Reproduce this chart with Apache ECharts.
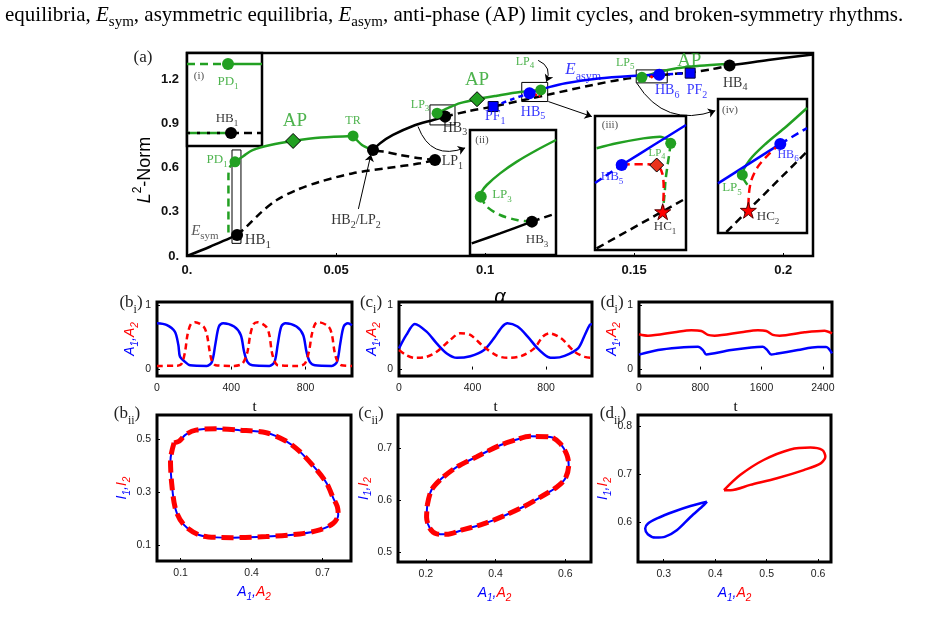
<!DOCTYPE html>
<html>
<head>
<meta charset="utf-8">
<title>bifurcation figure</title>
<script src="https://cdn.jsdelivr.net/npm/echarts@6.0.0/dist/echarts.min.js"></script>
<style>
  html, body { margin: 0; padding: 0; background: #fff; }
  #fig { width: 946px; height: 626px; }
</style>
</head>
<body>
<div id="fig"></div>
<script>
// colours and fonts
var BLUE = '#0000ff'
var RED = '#ff0000'
var GREEN = '#22a022'
var BLACK = '#000000'
var SERIF = 'Liberation Serif'
var SANS = 'Liberation Sans'

// ---- (a) alpha vs L2-norm ----
var symStable1 = [[0, 0], [0.0077, 0.063], [0.0144, 0.122], [0.0168, 0.143]]
var symUnstable1 = [[0.0168, 0.143], [0.02, 0.2], [0.0245, 0.29], [0.0301, 0.381], [0.0368, 0.449], [0.0446, 0.505], [0.0557, 0.563], [0.067, 0.597], [0.0782, 0.63], [0.0832, 0.653]]
var symUnstable2 = [[0.0832, 0.653], [0.0782, 0.664], [0.0715, 0.687], [0.0658, 0.71], [0.0624, 0.72]]
var symStable2 = [[0.0624, 0.72], [0.0648, 0.767], [0.0691, 0.823], [0.0758, 0.884], [0.0826, 0.925], [0.0866, 0.948]]
var symUnstable3 = [[0.0866, 0.948], [0.0945, 0.985], [0.1027, 1.016], [0.114, 1.065], [0.1218, 1.1], [0.1362, 1.163], [0.1463, 1.202], [0.158, 1.228], [0.1688, 1.248], [0.176, 1.27], [0.182, 1.295]]
var symStable3 = [[0.182, 1.295], [0.195, 1.333], [0.21, 1.37]]
var apLow = [[0.0161, 0.64], [0.019, 0.68], [0.022, 0.72], [0.028, 0.755], [0.0356, 0.782], [0.045, 0.805], [0.0557, 0.816]]
var apLowTail = [[0.0557, 0.816], [0.0587, 0.755], [0.0612, 0.73]]
var pdBranch = [[0.0161, 0.64], [0.0145, 0.61], [0.0139, 0.55], [0.0139, 0.15]]
var apHigh = [[0.0839, 0.971], [0.0875, 1.005], [0.0916, 1.039], [0.0973, 1.066], [0.104, 1.09], [0.1117, 1.115], [0.1187, 1.129]]
var apRight = [[0.1526, 1.215], [0.158, 1.25], [0.1643, 1.277], [0.172, 1.294], [0.181, 1.306]]
var asymUnstable1 = [[0.1027, 1.016], [0.109, 1.065], [0.1149, 1.107]]
var asymStable = [[0.1149, 1.107], [0.1218, 1.15], [0.127, 1.175], [0.138, 1.207], [0.149, 1.224], [0.1584, 1.232]]
var asymUnstable2 = [[0.1584, 1.232], [0.1688, 1.243]]
var brokenHB5 = [[0.1165, 1.1], [0.1185, 1.085]]
var brokenHB6 = [[0.1555, 1.225], [0.1565, 1.205]]
var hbBlack = [[0.0168, 0.143], [0.0624, 0.72], [0.0832, 0.653], [0.0866, 0.948], [0.182, 1.295]]
var lpGreen = [[0.0161, 0.64], [0.0557, 0.816], [0.0839, 0.971], [0.1187, 1.129], [0.1526, 1.215]]
var apDiamonds = [[0.0356, 0.782], [0.0973, 1.066]]
var hbBlue = [[0.1149, 1.107], [0.1584, 1.232]]
var pfSquares = [[0.1027, 1.016], [0.1688, 1.243]]

// ---- insets, unit coordinates inside each frame ----
var in1Green = [[0, 0.882], [0.547, 0.882]]
var in1GreenOn = [[0.547, 0.882], [1, 0.882]]
var in1Sym = [[0, 0.14], [0.587, 0.14]]
var in1SymOff = [[0.587, 0.14], [1, 0.14]]
var in2GreenOn = [[1, 0.92], [0.778, 0.84], [0.545, 0.747], [0.35, 0.653], [0.195, 0.56], [0.136, 0.507], [0.125, 0.467]]
var in2GreenOff = [[0.125, 0.467], [0.195, 0.387], [0.35, 0.32], [0.545, 0.28], [0.72, 0.267]]
var in2SymOn = [[0.02, 0.093], [0.35, 0.173], [0.72, 0.267]]
var in2SymOff = [[0.72, 0.267], [1, 0.333]]
var in3GreenOn = [[0.018, 0.759], [0.238, 0.796], [0.531, 0.833], [0.714, 0.846], [0.806, 0.821], [0.832, 0.796]]
var in3GreenOff = [[0.832, 0.796], [0.817, 0.721], [0.795, 0.622], [0.775, 0.52], [0.765, 0.42], [0.744, 0.286]]
var in3BlueOn = [[0.293, 0.634], [0.65, 0.785], [1, 0.933]]
var in3BlueOff = [[0, 0.5], [0.293, 0.634]]
var in3Red = [[0.293, 0.634], [0.4, 0.64], [0.55, 0.64], [0.678, 0.634], [0.74, 0.57], [0.755, 0.45], [0.75, 0.35], [0.744, 0.286]]
var in3Sym = [[0.018, 0.012], [1, 0.386]]
var in4GreenOn = [[1, 0.933], [0.768, 0.795], [0.543, 0.67], [0.356, 0.545], [0.273, 0.433], [0.33, 0.36]]
var in4BlueOn = [[0, 0.37], [0.7, 0.665]]
var in4BlueOff = [[0.7, 0.665], [1, 0.783]]
var in4Red = [[0.7, 0.665], [0.58, 0.595], [0.449, 0.495], [0.375, 0.395], [0.348, 0.295], [0.341, 0.17]]
var in4Sym = [[0.094, 0.0075], [1, 0.6075]]

// ---- (b,c,d)_i time series [t, A] ----
var biBlue = [[0, 0.721], [51, 0.695], [96, 0.59], [115, 0.381], [124, 0.198], [151, 0.12], [178, 0.067], [269, 0.057], [296, 0.12], [315, 0.407], [333, 0.668], [356, 0.721], [415, 0.668], [451, 0.538], [469, 0.276], [487, 0.12], [514, 0.067], [605, 0.057], [633, 0.12], [651, 0.407], [669, 0.668], [692, 0.721], [751, 0.668], [787, 0.538], [805, 0.276], [823, 0.12], [850, 0.067], [941, 0.057], [969, 0.12], [987, 0.407], [1005, 0.668], [1028, 0.721], [1050, 0.69]]
var biRed = [[0, 0.057], [110, 0.06], [133, 0.093], [151, 0.276], [164, 0.538], [182, 0.705], [205, 0.736], [251, 0.668], [269, 0.538], [284, 0.276], [296, 0.13], [315, 0.067], [415, 0.057], [460, 0.093], [487, 0.276], [502, 0.538], [520, 0.705], [542, 0.736], [587, 0.668], [605, 0.538], [618, 0.276], [633, 0.13], [651, 0.067], [760, 0.057], [796, 0.093], [818, 0.276], [833, 0.538], [851, 0.705], [869, 0.736], [924, 0.668], [942, 0.538], [956, 0.276], [971, 0.13], [993, 0.067], [1050, 0.057]]
var ciBlue = [[0, 0.329], [40, 0.538], [86, 0.71], [150, 0.59], [205, 0.407], [260, 0.25], [315, 0.182], [388, 0.208], [461, 0.3], [516, 0.485], [562, 0.668], [590, 0.72], [645, 0.668], [700, 0.512], [754, 0.329], [809, 0.198], [846, 0.182], [901, 0.214], [974, 0.329], [1011, 0.538], [1038, 0.695], [1050, 0.705]]
var ciRed = [[0, 0.303], [40, 0.224], [86, 0.182], [150, 0.198], [205, 0.276], [278, 0.459], [333, 0.564], [388, 0.538], [461, 0.355], [535, 0.214], [590, 0.182], [663, 0.208], [736, 0.329], [782, 0.512], [818, 0.564], [882, 0.485], [956, 0.276], [1011, 0.198], [1050, 0.182]]
var diBlue = [[0, 0.232], [248, 0.303], [509, 0.339], [770, 0.355], [835, 0.303], [878, 0.235], [943, 0.245], [1204, 0.303], [1465, 0.344], [1617, 0.355], [1674, 0.303], [1726, 0.235], [1791, 0.245], [2074, 0.303], [2335, 0.35], [2443, 0.35], [2520, 0.25]]
var diRed = [[0, 0.55], [117, 0.527], [465, 0.58], [683, 0.61], [813, 0.6], [900, 0.538], [987, 0.527], [1335, 0.58], [1552, 0.61], [1661, 0.6], [1748, 0.538], [1835, 0.527], [2161, 0.58], [2422, 0.605], [2520, 0.564]]

// ---- (b,c,d)_ii phase loops [A, I] ----
var biiLoop = [[0.072, 0.485], [0.057, 0.42], [0.062, 0.333], [0.079, 0.233], [0.114, 0.176], [0.178, 0.138], [0.249, 0.129], [0.32, 0.128], [0.462, 0.132], [0.603, 0.142], [0.688, 0.157], [0.745, 0.182], [0.766, 0.214], [0.762, 0.245], [0.745, 0.277], [0.717, 0.333], [0.674, 0.384], [0.603, 0.453], [0.547, 0.491], [0.462, 0.523], [0.348, 0.533], [0.249, 0.538], [0.164, 0.533], [0.121, 0.516], [0.093, 0.491], [0.072, 0.485]]
var ciiLoop = [[0.204, 0.59], [0.216, 0.619], [0.245, 0.641], [0.288, 0.663], [0.346, 0.683], [0.413, 0.705], [0.461, 0.716], [0.499, 0.722], [0.557, 0.721], [0.586, 0.708], [0.605, 0.686], [0.61, 0.667], [0.6, 0.641], [0.576, 0.625], [0.538, 0.609], [0.48, 0.587], [0.422, 0.569], [0.365, 0.554], [0.307, 0.543], [0.259, 0.534], [0.231, 0.535], [0.212, 0.545], [0.202, 0.567], [0.204, 0.59]]
var diiBlue = [[0.384, 0.642], [0.352, 0.633], [0.319, 0.621], [0.287, 0.607], [0.269, 0.596], [0.264, 0.586], [0.269, 0.574], [0.284, 0.567], [0.303, 0.569], [0.326, 0.583], [0.352, 0.61], [0.378, 0.635], [0.384, 0.642]]
var diiRed = [[0.417, 0.666], [0.449, 0.698], [0.494, 0.729], [0.546, 0.751], [0.585, 0.755], [0.608, 0.75], [0.614, 0.736], [0.605, 0.722], [0.572, 0.708], [0.52, 0.691], [0.468, 0.677], [0.43, 0.666], [0.417, 0.666]]

// tick labels of the small panels
var biiTicksX = [0.1, 0.4, 0.7]
var biiTicksY = [0.1, 0.3, 0.5]
var ciiTicksX = [0.2, 0.4, 0.6]
var ciiTicksY = [0.5, 0.6, 0.7]
var diiTicksX = [0.3, 0.4, 0.5, 0.6]
var diiTicksY = [0.6, 0.7, 0.8]
var timeTicksY = [0, 1]

var STAR = 'path://M50,0 L61,35 L98,35 L68,57 L79,91 L50,70 L21,91 L32,57 L2,35 L39,35 Z'

// rich text styles for labels with sub/superscripts
function richFor (size, fam) {
  fam = fam || SERIF
  var lh = Math.round(size * 1.45)
  return {
    n: { fontFamily: fam, fontSize: size, lineHeight: lh },
    i: { fontFamily: fam, fontSize: size, lineHeight: lh, fontStyle: 'italic' },
    s: { fontFamily: fam, fontSize: Math.round(size * 0.72), lineHeight: Math.round(size * 0.8), verticalAlign: 'bottom' },
    p: { fontFamily: fam, fontSize: Math.round(size * 0.65), lineHeight: Math.round(size * 0.8), verticalAlign: 'top' }
  }
}
function sub (a, b) { return '{n|' + a + '}{s|' + b + '}' }

function curve (grid, data, color, width, dash, z, smooth) {
  return {
    type: 'line', xAxisIndex: grid, yAxisIndex: grid, data: data, symbol: 'none', silent: true,
    z: z || 3, smooth: smooth === undefined ? 0.3 : smooth,
    lineStyle: { color: color, width: width, type: dash || 'solid', cap: 'butt' }
  }
}
function marks (grid, data, symbol, size, color, border, z) {
  return {
    type: 'scatter', xAxisIndex: grid, yAxisIndex: grid, data: data, symbol: symbol, symbolSize: size,
    silent: true, z: z || 8,
    itemStyle: { color: color, borderColor: border || color, borderWidth: border ? 1 : 0, opacity: 1 }
  }
}
function notes (grid, items) {
  return {
    type: 'scatter', xAxisIndex: grid, yAxisIndex: grid, symbolSize: 1, silent: true, z: 10,
    itemStyle: { color: 'rgba(0,0,0,0)' },
    data: items.map(function (d) {
      return {
        value: [d[0], d[1]],
        label: { show: true, position: 'inside', color: d[3], formatter: function () { return d[2] }, rich: richFor(d[4], d[5]) }
      }
    })
  }
}
function unitAxis (i) { return { gridIndex: i, type: 'value', min: 0, max: 1, show: false } }

var D = [8, 5]
var DS = [6, 4]

// axis name with blue first letter and red second one
function pairName (letter) { return '{b|' + letter + '}{bs|1}{b|,}{r|' + letter + '}{rs|2}' }
var pairRich = {
  b: { color: BLUE, fontFamily: SANS, fontStyle: 'italic', fontSize: 14, lineHeight: 19 },
  bs: { color: BLUE, fontFamily: SANS, fontStyle: 'italic', fontSize: 10, lineHeight: 12, verticalAlign: 'bottom' },
  r: { color: RED, fontFamily: SANS, fontStyle: 'italic', fontSize: 14, lineHeight: 19 },
  rs: { color: RED, fontFamily: SANS, fontStyle: 'italic', fontSize: 10, lineHeight: 12, verticalAlign: 'bottom' }
}

function plain (v) { return String(+v.toFixed(2)) }

function smallX (i, min, max, interval, custom, name, gap) {
  var ax = {
    gridIndex: i, type: 'value', min: min, max: max,
    axisLine: { show: false }, splitLine: { show: false },
    axisTick: { show: true, inside: true, length: 3, lineStyle: { color: '#000' } },
    axisLabel: { fontFamily: SANS, fontSize: 10.5, color: '#222', margin: 7, formatter: plain },
    name: name, nameLocation: 'middle', nameGap: gap
  }
  if (interval) {
    ax.interval = interval
    ax.axisLabel.showMaxLabel = false
  }
  if (custom) { ax.axisLabel.customValues = custom; ax.axisTick.customValues = custom }
  if (name === 't') ax.nameTextStyle = { fontFamily: SERIF, fontSize: 15, color: '#000' }
  else ax.nameTextStyle = { rich: pairRich }
  return ax
}
function smallY (i, min, max, custom, name, gap) {
  return {
    gridIndex: i, type: 'value', min: min, max: max,
    axisLine: { show: false }, splitLine: { show: false },
    axisTick: { show: true, inside: true, length: 3, customValues: custom, lineStyle: { color: '#000' } },
    axisLabel: { fontFamily: SANS, fontSize: 10.5, color: '#222', margin: 6, customValues: custom, formatter: plain },
    name: name, nameLocation: 'middle', nameGap: gap, nameTextStyle: { rich: pairRich }
  }
}

var frame = function (l, t, w, h, bw, bg) {
  return { left: l, top: t, width: w, height: h, show: true, borderColor: '#000', borderWidth: bw, backgroundColor: bg || 'transparent' }
}

var chartEl = document.getElementById('fig')
var chart = echarts.init(chartEl)

var option = {
  animation: false,
  backgroundColor: '#fff',
  grid: [
    frame(187, 53, 626, 203, 2.5),
    frame(187, 53, 75, 93, 2.5, '#fff'),
    frame(470, 130, 86, 125, 2.5, '#fff'),
    frame(595, 116, 91, 134, 2.5, '#fff'),
    frame(718, 99, 89, 134, 2.5, '#fff'),
    frame(157, 302, 195, 74, 3),
    frame(399, 302, 193, 74, 3),
    frame(639, 302, 193, 74, 3),
    frame(157, 415, 194, 146, 3),
    frame(398, 415, 193, 147, 3),
    frame(638, 415, 193, 147, 3)
  ],
  xAxis: [
    {
      gridIndex: 0, type: 'value', min: 0, max: 0.21, interval: 0.05,
      axisLine: { show: false }, splitLine: { show: false },
      axisTick: { show: true, inside: true, length: 3, lineStyle: { color: '#000' } },
      axisLabel: {
        showMaxLabel: false, margin: 8, fontFamily: SANS, fontSize: 13, fontWeight: 'bold', color: '#111',
        formatter: function (v) { return v === 0 ? '0.' : String(+v.toFixed(2)) }
      },
      name: 'α', nameLocation: 'middle', nameGap: 31,
      nameTextStyle: { fontFamily: SANS, fontStyle: 'italic', fontSize: 20, color: '#000' }
    },
    unitAxis(1), unitAxis(2), unitAxis(3), unitAxis(4),
    smallX(5, 0, 1050, 400, null, 't', 24),
    smallX(6, 0, 1050, 400, null, 't', 24),
    smallX(7, 0, 2520, 800, null, 't', 24),
    smallX(8, 0, 0.82, null, biiTicksX, pairName('A'), 22),
    smallX(9, 0.12, 0.674, null, ciiTicksX, pairName('A'), 22),
    smallX(10, 0.25, 0.625, null, diiTicksX, pairName('A'), 22)
  ],
  yAxis: [
    {
      gridIndex: 0, type: 'value', min: 0, max: 1.38, interval: 0.3,
      axisLine: { show: false }, splitLine: { show: false }, axisTick: { show: false },
      axisLabel: {
        showMaxLabel: false, margin: 8, fontFamily: SANS, fontSize: 13, fontWeight: 'bold', color: '#111',
        formatter: function (v) { return v === 0 ? '0.' : v.toFixed(1) }
      }
    },
    unitAxis(1), unitAxis(2), unitAxis(3), unitAxis(4),
    smallY(5, -0.1, 1.05, timeTicksY, pairName('A'), 17),
    smallY(6, -0.1, 1.05, timeTicksY, pairName('A'), 17),
    smallY(7, -0.1, 1.05, timeTicksY, pairName('A'), 17),
    smallY(8, 0.04, 0.59, biiTicksY, pairName('I'), 25),
    smallY(9, 0.481, 0.763, ciiTicksY, pairName('I'), 22),
    smallY(10, 0.516, 0.823, diiTicksY, pairName('I'), 25)
  ],
  graphic: [
    {
      type: 'text', x: 5, y: 15,
      style: {
        text: '{n|equilibria, }{i|E}{s|sym}{n|, asymmetric equilibria, }{i|E}{s|asym}{n|, anti-phase (AP) limit cycles, and broken-symmetry rhythms.}',
        align: 'left', verticalAlign: 'middle', fill: '#000', rich: richFor(21)
      }
    },
    { type: 'text', x: 145, y: 170, rotation: Math.PI / 2, style: { text: '{i|L}{p|2}{n|-Norm}', align: 'center', verticalAlign: 'middle', fill: '#000', rich: richFor(18, SANS) } },
    { type: 'text', x: 143, y: 58, style: { text: '{n|(a)}', align: 'center', verticalAlign: 'middle', fill: '#222', rich: richFor(17) } },
    { type: 'text', x: 131, y: 303, style: { text: '{n|(b}{s|i}{n|)}', align: 'center', verticalAlign: 'middle', fill: '#222', rich: richFor(17) } },
    { type: 'text', x: 371, y: 303, style: { text: '{n|(c}{s|i}{n|)}', align: 'center', verticalAlign: 'middle', fill: '#222', rich: richFor(17) } },
    { type: 'text', x: 612, y: 303, style: { text: '{n|(d}{s|i}{n|)}', align: 'center', verticalAlign: 'middle', fill: '#222', rich: richFor(17) } },
    { type: 'text', x: 127, y: 414, style: { text: '{n|(b}{s|ii}{n|)}', align: 'center', verticalAlign: 'middle', fill: '#222', rich: richFor(17) } },
    { type: 'text', x: 371, y: 414, style: { text: '{n|(c}{s|ii}{n|)}', align: 'center', verticalAlign: 'middle', fill: '#222', rich: richFor(17) } },
    { type: 'text', x: 613, y: 414, style: { text: '{n|(d}{s|ii}{n|)}', align: 'center', verticalAlign: 'middle', fill: '#222', rich: richFor(17) } }
  ],
  series: [
    // (a) branches
    Object.assign(curve(0, symStable1, BLACK, 2.5, null, 2), {
      markArea: {
        silent: true,
        itemStyle: { color: 'rgba(0,0,0,0)', borderColor: '#000', borderWidth: 1 },
        data: [
          [{ coord: [0.0151, 0.086] }, { coord: [0.0181, 0.721] }],
          [{ coord: [0.0815, 0.891] }, { coord: [0.0899, 1.027] }],
          [{ coord: [0.1123, 1.05] }, { coord: [0.121, 1.18] }],
          [{ coord: [0.1507, 1.177] }, { coord: [0.1611, 1.265] }]
        ]
      }
    }),
    curve(0, symUnstable1, BLACK, 2.5, D, 2),
    curve(0, symUnstable2, BLACK, 2.5, D, 2),
    curve(0, symStable2, BLACK, 2.5, null, 2),
    curve(0, symUnstable3, BLACK, 2.5, D, 2),
    curve(0, symStable3, BLACK, 2.5, null, 2),
    curve(0, apLow, GREEN, 2.5, null, 3),
    curve(0, apLowTail, GREEN, 2.5, null, 3),
    curve(0, pdBranch, GREEN, 2.5, D, 3),
    curve(0, apHigh, GREEN, 2.5, null, 3),
    curve(0, apRight, GREEN, 2.5, null, 3),
    curve(0, asymUnstable1, BLUE, 2.5, [5, 4], 4),
    curve(0, asymStable, BLUE, 2.5, null, 4),
    curve(0, asymUnstable2, BLUE, 2.5, [5, 4], 4),
    curve(0, brokenHB5, RED, 2.5, [3, 2], 5, 0),
    curve(0, brokenHB6, RED, 2.5, [3, 2], 5, 0),
    {
      type: 'lines', coordinateSystem: 'cartesian2d', xAxisIndex: 0, yAxisIndex: 0, silent: true, z: 6,
      symbol: ['none', 'arrow'], symbolSize: 7,
      lineStyle: { color: '#000', width: 1, opacity: 1 },
      data: [
        { coords: [[0.0775, 0.88], [0.0933, 0.735]], lineStyle: { curveness: -0.5 } },
        { coords: [[0.1212, 1.05], [0.1358, 0.948]], lineStyle: { curveness: 0 } },
        { coords: [[0.1509, 1.175], [0.1772, 0.988]], lineStyle: { curveness: -0.4 } },
        { coords: [[0.0575, 0.32], [0.0617, 0.69]], lineStyle: { curveness: 0 } },
        { coords: [[0.1178, 1.33], [0.1205, 1.185]], lineStyle: { curveness: 0.5 } }
      ]
    },
    marks(0, hbBlack, 'circle', 12, BLACK),
    marks(0, lpGreen, 'circle', 11, GREEN),
    marks(0, apDiamonds, 'diamond', 15, GREEN, BLACK),
    marks(0, hbBlue, 'circle', 12, BLUE, null, 9),
    marks(0, pfSquares, 'rect', 10, BLUE, '#000033'),
    notes(0, [
      [0.006, 0.17, '{i|E}{s|sym}', '#333', 15],
      [0.0238, 0.109, sub('HB', '1'), BLACK, 15],
      [0.0101, 0.653, sub('PD', '1'), GREEN, 13],
      [0.0362, 0.918, '{n|AP}', GREEN, 19],
      [0.0557, 0.918, '{n|TR}', GREEN, 12],
      [0.0567, 0.245, '{n|HB}{s|2}{n|/LP}{s|2}', BLACK, 14],
      [0.089, 0.646, sub('LP', '1'), BLACK, 14],
      [0.0782, 1.027, sub('LP', '3'), GREEN, 12],
      [0.0899, 0.871, sub('HB', '3'), BLACK, 14],
      [0.0973, 1.197, '{n|AP}', GREEN, 19],
      [0.1034, 0.952, sub('PF', '1'), BLUE, 14],
      [0.1134, 1.32, sub('LP', '4'), GREEN, 12],
      [0.1329, 1.265, '{i|E}{s|asym}', BLUE, 17],
      [0.1161, 0.98, sub('HB', '5'), BLUE, 14],
      [0.147, 1.313, sub('LP', '5'), GREEN, 12],
      [0.1611, 1.129, sub('HB', '6'), BLUE, 14],
      [0.1711, 1.129, sub('PF', '2'), BLUE, 14],
      [0.1685, 1.327, '{n|AP}', GREEN, 19],
      [0.1839, 1.177, sub('HB', '4'), BLACK, 14]
    ]),

    // inset (i)
    curve(1, in1Green, GREEN, 2.5, D, 3, 0),
    curve(1, in1GreenOn, GREEN, 2.5, null, 3, 0),
    curve(1, in1Sym, GREEN, 2.5, null, 3, 0),
    curve(1, in1Sym, BLACK, 2.5, [3, 7], 4, 0),
    curve(1, in1SymOff, BLACK, 2.5, D, 3, 0),
    marks(1, [[0.547, 0.882]], 'circle', 12, GREEN),
    marks(1, [[0.587, 0.14]], 'circle', 12, BLACK),
    notes(1, [
      [0.16, 0.753, '{n|(i)}', '#222', 11],
      [0.547, 0.688, sub('PD', '1'), GREEN, 13],
      [0.533, 0.29, sub('HB', '1'), BLACK, 13]
    ]),

    // inset (ii)
    curve(2, in2GreenOn, GREEN, 2.5, null, 3),
    curve(2, in2GreenOff, GREEN, 2.5, D, 3),
    curve(2, in2SymOn, BLACK, 2.5, null, 2),
    curve(2, in2SymOff, BLACK, 2.5, D, 2, 0),
    marks(2, [[0.125, 0.467]], 'circle', 12, GREEN),
    marks(2, [[0.72, 0.267]], 'circle', 12, BLACK),
    notes(2, [
      [0.14, 0.92, '{n|(ii)}', '#222', 11],
      [0.372, 0.48, sub('LP', '3'), GREEN, 13],
      [0.78, 0.12, sub('HB', '3'), BLACK, 13]
    ]),

    // inset (iii)
    curve(3, in3GreenOn, GREEN, 2.5, null, 3),
    curve(3, in3GreenOff, GREEN, 2.5, D, 3),
    curve(3, in3BlueOn, BLUE, 2.5, null, 4),
    curve(3, in3BlueOff, BLUE, 2.5, D, 4, 0),
    curve(3, in3Red, RED, 2.5, D, 5),
    curve(3, in3Sym, BLACK, 2.5, D, 2, 0),
    marks(3, [[0.293, 0.634]], 'circle', 12, BLUE),
    marks(3, [[0.832, 0.796]], 'circle', 11, GREEN),
    marks(3, [[0.678, 0.634]], 'diamond', 14, '#e8331c', '#000'),
    marks(3, [[0.744, 0.286]], STAR, 16, RED, '#550000'),
    notes(3, [
      [0.165, 0.933, '{n|(iii)}', '#222', 11],
      [0.187, 0.545, sub('HB', '5'), BLUE, 13],
      [0.68, 0.724, sub('LP', '4'), GREEN, 11],
      [0.77, 0.172, sub('HC', '1'), BLACK, 13]
    ]),

    // inset (iv)
    curve(4, in4GreenOn, GREEN, 2.5, null, 3),
    curve(4, in4BlueOn, BLUE, 2.5, null, 4, 0),
    curve(4, in4BlueOff, BLUE, 2.5, D, 4, 0),
    curve(4, in4Red, RED, 2.5, D, 5),
    curve(4, in4Sym, BLACK, 2.5, D, 2, 0),
    marks(4, [[0.7, 0.665]], 'circle', 12, BLUE),
    marks(4, [[0.273, 0.433]], 'circle', 11, GREEN),
    marks(4, [[0.341, 0.17]], STAR, 16, RED, '#550000'),
    notes(4, [
      [0.135, 0.918, '{n|(iv)}', '#222', 11],
      [0.787, 0.582, sub('HB', '6'), BLUE, 12],
      [0.157, 0.336, sub('LP', '5'), GREEN, 13],
      [0.562, 0.119, sub('HC', '2'), BLACK, 13]
    ]),

    // time series
    curve(5, biBlue, BLUE, 2.5, null, 3),
    curve(5, biRed, RED, 2.5, DS, 4),
    curve(6, ciBlue, BLUE, 2.5, null, 3),
    curve(6, ciRed, RED, 2.5, DS, 4),
    curve(7, diBlue, BLUE, 2.5, null, 3),
    curve(7, diRed, RED, 2.5, null, 4),

    // phase loops
    curve(8, biiLoop, BLUE, 2, null, 3),
    curve(8, biiLoop, RED, 5, [12, 6], 4),
    curve(9, ciiLoop, BLUE, 2, null, 3),
    curve(9, ciiLoop, RED, 5, [12, 5], 4),
    curve(10, diiBlue, BLUE, 2.5, null, 3),
    curve(10, diiRed, RED, 2.5, null, 3)
  ]
}

chart.setOption(option, true)
</script>
</body>
</html>
